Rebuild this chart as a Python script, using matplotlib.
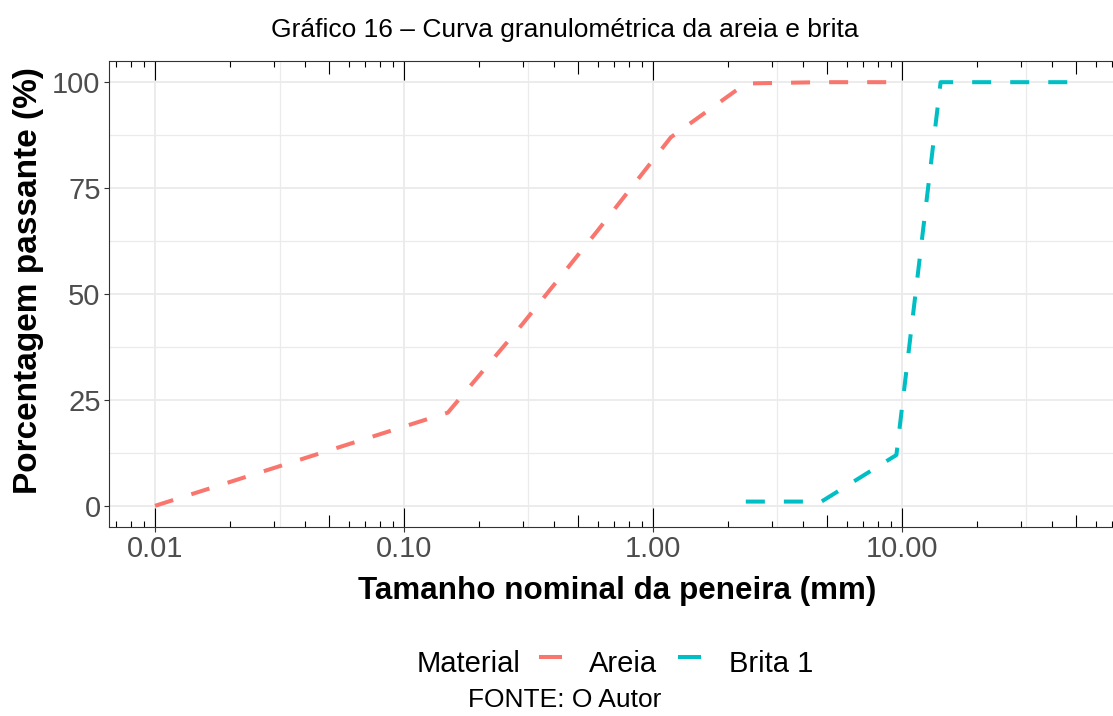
import numpy as np
import matplotlib.pyplot as plt
from matplotlib.lines import Line2D
from matplotlib.ticker import FixedLocator, FixedFormatter, NullFormatter

plt.rcParams['font.family'] = ['Liberation Sans', 'DejaVu Sans']
plt.rcParams['lines.scale_dashes'] = False

# abertura das peneiras (mm) e porcentagem passante
areia_mm = [0.01, 0.15, 0.3, 0.6, 1.18, 2.36, 4.75, 9.5]
areia_pct = [0, 22, 43, 65, 87, 99.7, 100, 100]
brita_mm = [2.36, 4.75, 9.5, 14.3, 19, 25, 31.5, 37.5, 50]
brita_pct = [1, 1, 12, 100, 100, 100, 100, 100, 100]

x_breaks = [0.01, 0.1, 1, 10]
x_labels = ['0.01', '0.10', '1.00', '10.00']
y_breaks = [0, 25, 50, 75, 100]

cor_areia = '#F8766D'
cor_brita = '#00BFC4'
tracejado = (0, (13.7, 13.7))

W, H = 1113, 716
fig = plt.figure(figsize=(W / 100, H / 100), dpi=100)


def fx(px):
    return px / W


def fy(py):
    return 1 - py / H


# escala log com 5% de folga em cada lado (como no ggplot)
lo = np.log10(min(areia_mm + brita_mm))
hi = np.log10(max(areia_mm + brita_mm))
pad = 0.05 * (hi - lo)
ax = fig.add_axes([fx(109), fy(527), (1122 - 109) / W, 466 / H])
ax.set_xscale('log')
ax.set_xlim(10 ** (lo - pad), 10 ** (hi + pad))
ax.set_ylim(-5, 105)

ax.plot(areia_mm, areia_pct, color=cor_areia, lw=2.9, ls=tracejado, zorder=4)
ax.plot(brita_mm, brita_pct, color=cor_brita, lw=2.9, ls=tracejado, zorder=4)

ax.xaxis.set_major_locator(FixedLocator(x_breaks))
ax.xaxis.set_major_formatter(FixedFormatter(x_labels))
ax.xaxis.set_minor_locator(FixedLocator([10 ** k for k in (-1.5, -0.5, 0.5, 1.5)]))
ax.xaxis.set_minor_formatter(NullFormatter())
ax.yaxis.set_major_locator(FixedLocator(y_breaks))
ax.yaxis.set_minor_locator(FixedLocator([12.5, 37.5, 62.5, 87.5]))

ax.grid(which='major', color='#EBEBEB', lw=1.3, zorder=0)
ax.grid(which='minor', color='#EBEBEB', lw=0.9, zorder=0)
ax.set_axisbelow(True)

ax.tick_params(which='major', length=3.6, width=0.8, color='#333333',
               labelsize=21, labelcolor='#4D4D4D', pad=2.5)
ax.tick_params(which='minor', length=0)
for s in ax.spines.values():
    s.set_color('#333333')
    s.set_linewidth(0.8)
    s.set_zorder(5)

# marcas logaritmicas em cima e embaixo
tr = ax.get_xaxis_transform()
alt = 466.0
for d in range(-3, 2):
    for m in range(1, 10):
        v = m * 10.0 ** d
        L = 19 if m == 1 else (12.5 if m == 5 else 6.3)
        ax.vlines(v, 0, L / alt, transform=tr, color='black', lw=0.8, zorder=3)
        ax.vlines(v, 1 - L / alt, 1, transform=tr, color='black', lw=0.8, zorder=3)

fig.text(fx(565), fy(37), 'Gráfico 16 – Curva granulométrica da areia e brita',
         fontsize=19, ha='center', va='baseline')
fig.text(fx(617), fy(599), 'Tamanho nominal da peneira (mm)',
         fontsize=22.6, fontweight='bold', ha='center', va='baseline')
fig.text(fx(37), fy(281), 'Porcentagem passante (%)', fontsize=24,
         fontweight='bold', rotation=90, rotation_mode='anchor',
         ha='center', va='baseline')

# legenda horizontal
fig.text(fx(417), fy(672), 'Material', fontsize=21, va='baseline')
fig.add_artist(Line2D([fx(541), fx(560)], [fy(657)] * 2, color=cor_areia, lw=2.9))
fig.text(fx(589), fy(672), 'Areia', fontsize=21, va='baseline')
fig.add_artist(Line2D([fx(680), fx(699)], [fy(657)] * 2, color=cor_brita, lw=2.9))
fig.text(fx(729), fy(672), 'Brita 1', fontsize=21, va='baseline')

fig.text(fx(565), fy(707), 'FONTE: O Autor', fontsize=19, ha='center', va='baseline')

fig.savefig('out.png', dpi=100)
